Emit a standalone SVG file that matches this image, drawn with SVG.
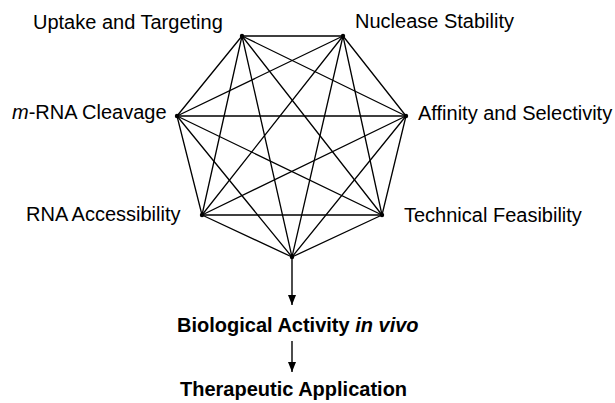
<svg xmlns="http://www.w3.org/2000/svg" width="615" height="403" viewBox="0 0 615 403">
  <style>
    .lbl { font-family: "Liberation Sans", Arial, sans-serif; font-size: 20px; fill: #000; }
    .bold { font-family: "Liberation Sans", Arial, sans-serif; font-size: 20px; font-weight: bold; fill: #000; }
    .edge { stroke: #000; stroke-width: 1.3; fill: none; stroke-linecap: round; }
    .arrow { stroke: #000; stroke-width: 1.4; fill: none; }
    .dot { fill: #000; }
  </style>
  <defs>
    <marker id="ah" markerUnits="userSpaceOnUse" markerWidth="8" markerHeight="10" refX="4" refY="10" orient="auto-start-reverse" viewBox="0 0 8 10">
      <path d="M0,0 L8,0 L4,10 z" fill="#000"/>
    </marker>
    <marker id="ahd" markerUnits="userSpaceOnUse" markerWidth="10" markerHeight="8" refX="10" refY="4" orient="auto" viewBox="0 0 10 8">
      <path d="M0,0 L10,4 L0,8 z" fill="#000"/>
    </marker>
  </defs>

  <g id="connectors">
    <!-- K7 complete graph edges -->
    <line class="edge" x1="242" y1="36" x2="343" y2="36"/>
    <line class="edge" x1="242" y1="36" x2="406" y2="116"/>
    <line class="edge" x1="242" y1="36" x2="382" y2="215"/>
    <line class="edge" x1="242" y1="36" x2="292" y2="257"/>
    <line class="edge" x1="242" y1="36" x2="202" y2="215"/>
    <line class="edge" x1="242" y1="36" x2="177" y2="116"/>
    <line class="edge" x1="343" y1="36" x2="406" y2="116"/>
    <line class="edge" x1="343" y1="36" x2="382" y2="215"/>
    <line class="edge" x1="343" y1="36" x2="292" y2="257"/>
    <line class="edge" x1="343" y1="36" x2="202" y2="215"/>
    <line class="edge" x1="343" y1="36" x2="177" y2="116"/>
    <line class="edge" x1="406" y1="116" x2="382" y2="215"/>
    <line class="edge" x1="406" y1="116" x2="292" y2="257"/>
    <line class="edge" x1="406" y1="116" x2="202" y2="215"/>
    <line class="edge" x1="406" y1="116" x2="177" y2="116"/>
    <line class="edge" x1="382" y1="215" x2="292" y2="257"/>
    <line class="edge" x1="382" y1="215" x2="202" y2="215"/>
    <line class="edge" x1="382" y1="215" x2="177" y2="116"/>
    <line class="edge" x1="292" y1="257" x2="202" y2="215"/>
    <line class="edge" x1="292" y1="257" x2="177" y2="116"/>
    <line class="edge" x1="202" y1="215" x2="177" y2="116"/>
    <!-- downward arrows -->
    <line class="arrow" x1="292" y1="257" x2="292" y2="305" marker-end="url(#ahd)"/>
    <line class="arrow" x1="292" y1="341" x2="292" y2="372" marker-end="url(#ahd)"/>
  </g>

  <g id="uptake-targeting">
    <circle class="dot" cx="242" cy="36" r="2.2"/>
    <text class="lbl" x="33" y="29">Uptake and Targeting</text>
  </g>
  <g id="nuclease-stability">
    <circle class="dot" cx="343" cy="36" r="2.2"/>
    <text class="lbl" x="355" y="28">Nuclease Stability</text>
  </g>
  <g id="affinity-selectivity">
    <circle class="dot" cx="406" cy="116" r="2.2"/>
    <text class="lbl" x="418" y="120">Affinity and Selectivity</text>
  </g>
  <g id="technical-feasibility">
    <circle class="dot" cx="382" cy="215" r="2.2"/>
    <text class="lbl" x="404" y="222">Technical Feasibility</text>
  </g>
  <g id="convergence">
    <circle class="dot" cx="292" cy="257" r="2.2"/>
  </g>
  <g id="rna-accessibility">
    <circle class="dot" cx="202" cy="215" r="2.2"/>
    <text class="lbl" x="26" y="221">RNA Accessibility</text>
  </g>
  <g id="mrna-cleavage">
    <circle class="dot" cx="177" cy="116" r="2.2"/>
    <text class="lbl" x="12" y="119"><tspan font-style="italic">m</tspan>-RNA Cleavage</text>
  </g>

  <g id="biological-activity">
    <text class="bold" x="177" y="332">Biological Activity <tspan font-style="italic">in vivo</tspan></text>
  </g>
  <g id="therapeutic-application">
    <text class="bold" x="180" y="396">Therapeutic Application</text>
  </g>
</svg>
